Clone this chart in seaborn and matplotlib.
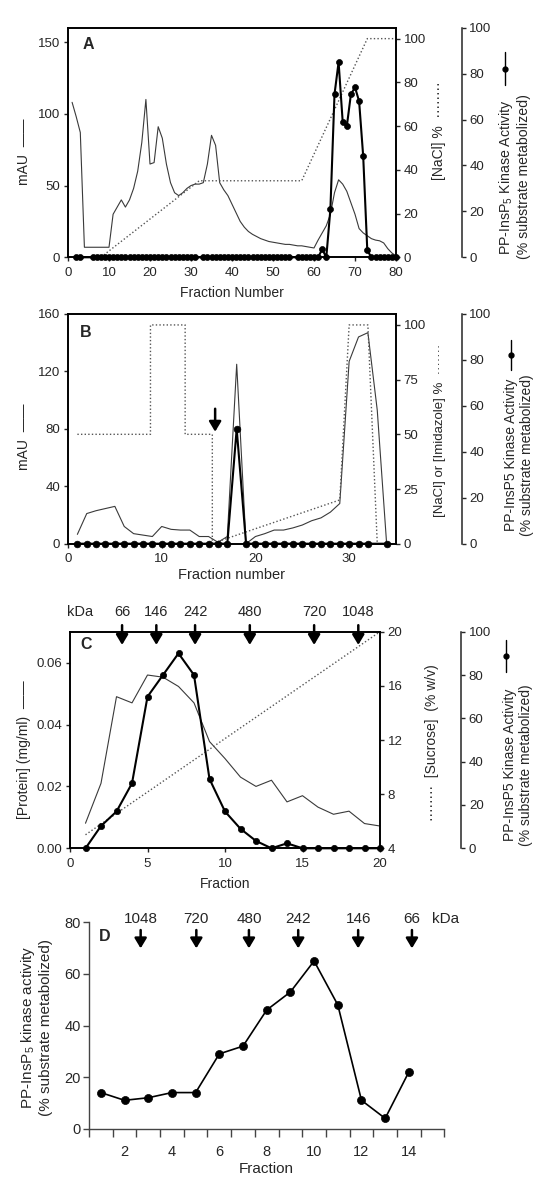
import matplotlib.pyplot as plt
import numpy as np
import seaborn as sns
from matplotlib.lines import Line2D
from matplotlib.ticker import FormatStrFormatter, MultipleLocator

sns.set_style('ticks')
plt.rcParams['font.family'] = ['Liberation Sans', 'DejaVu Sans']
plt.rcParams['mathtext.fontset'] = 'custom'
plt.rcParams['mathtext.rm'] = 'Liberation Sans'
plt.rcParams['mathtext.it'] = 'Liberation Sans:italic'

nan = np.nan

# panel A - anion exchange
frac_a = list(range(1, 81))
mau_a = [108, 98, 87, 7, 7, 7, 7, 7, 7, 7,
         30, 35, 40, 35, 40, 48, 60, 80, 110, 65,
         66, 91, 83, 65, 52, 45, 43, 45, 48, 50,
         51, 51, 52, 65, 85, 78, 52, 47, 43, 37,
         31, 25, 21, 18, 16, 14.5, 13, 12, 11, 10.5,
         10, 9.5, 9, 9, 8.5, 8, 8, 7.5, 7, 6.5,
         12, 17, 22, 30, 45, 54, 51, 46, 38, 30,
         20, 17, 15, 13, 12, 11.5, 10, 6, 3, 1]
act_a = ([nan, 0, 0, nan, nan] + [0] * 26 + [nan] + [0] * 22 + [nan] + [0] * 6
         + [3.5, 0, 21, 71, 85, 59, 57, 71, 74, 68, 44, 3] + [0] * 7)
nacl_a_x = [1, 8, 32, 57, 73, 80]
nacl_a = [0, 0, 35, 35, 100, 100]

# panel B - Ni column
frac_b = list(range(1, 35))
mau_b = [6.5, 21, 23, 24.5, 26, 12, 7, 6, 5, 12, 10, 9.5, 9.5, 5, 5, 1, 5,
         125, 0, 5, 7, 9.5, 9.5, 11, 13, 16, 18, 22, 28, 127, 144, 147, 93, 0]
act_b = [0] * 17 + [50] + [0] * 14 + [nan, 0]
grad_b_x = [1, 8.8, 8.8, 12.5, 12.5, 15.4, 15.4, 16, 29, 30, 32, 33]
grad_b = [50, 50, 100, 100, 50, 50, 0, 1, 20, 100, 100, 0]
arrow_b = 15.7

# panel C - sucrose gradient
frac_c = list(range(1, 21))
protein_c = [0.0081, 0.021, 0.049, 0.047, 0.056, 0.0553, 0.0523, 0.047, 0.0345, 0.029,
             0.023, 0.020, 0.022, 0.015, 0.017, 0.0133, 0.011, 0.012, 0.008, 0.0072]
act_c = [0, 10.3, 17, 30, 70, 80, 90, 80, 32, 17, 9, 3.4, 0, 2.3, 0, 0, 0, 0, 0, 0]
sucrose_x = [1, 20]
sucrose = [5, 20]
kda_c = ['66', '146', '242', '480', '720', '1048']
kda_c_pos = [3.36, 5.57, 8.07, 11.6, 15.75, 18.6]

# panel D - gel filtration
frac_d = list(range(1, 15))
act_d = [14, 11, 12, 14, 14, 29, 32, 46, 53, 65, 48, 11, 4, 22]
kda_d = ['1048', '720', '480', '242', '146', '66']
kda_d_pos = [2.68, 5.03, 7.25, 9.33, 11.86, 14.13]

W, H = 552, 1183
fig = plt.figure(figsize=(W / 100, H / 100), dpi=100)


def rect(l, t, r, b):
    return [l / W, 1 - b / H, (r - l) / W, (b - t) / H]


def ftext(px, py, s, size=10, **kw):
    fig.text(px / W, 1 - py / H, s, ha='center', va='center', rotation=90,
             fontsize=size, multialignment='center', **kw)


def glyph(px, py1, py2):
    fig.add_artist(Line2D([px / W] * 3, [1 - py1 / H, 1 - (py1 + py2) / 2 / H, 1 - py2 / H],
                          transform=fig.transFigure, color='black', lw=1,
                          marker='o', ms=3.5, markevery=[1]))


def three_axes(box, off):
    ax = fig.add_axes(box)
    ax2 = ax.twinx()
    ax3 = ax.twinx()
    ax3.spines['right'].set_position(('axes', off))
    for s in ['top', 'left', 'bottom']:
        ax3.spines[s].set_visible(False)
    for a in (ax, ax2):
        for s in a.spines.values():
            s.set_linewidth(1.2)
            s.set_color('black')
    ax3.spines['right'].set_linewidth(1.1)
    for a in (ax, ax2, ax3):
        a.tick_params(direction='out', length=3, width=1, labelsize=9.5, pad=2.5)
    ax.tick_params(axis='x', pad=4)
    return ax, ax2, ax3


thin = dict(color='#3a3a3a', lw=0.8)
dots = dict(color='#555555', lw=1, linestyle=(0, (1, 1.6)))
act_kw = dict(color='black', lw=1.5, marker='o', mec='black', mew=0.5, clip_on=False)
arrow_kw = dict(arrowstyle='-|>,head_length=0.5,head_width=0.3', color='black',
                lw=1.8, mutation_scale=12, shrinkA=0, shrinkB=0)

# ---------------- A ----------------
ax, ax2, ax3 = three_axes(rect(68, 27.7, 396, 257.3), 1.2)
sns.lineplot(x=frac_a, y=mau_a, ax=ax, **thin)
sns.lineplot(x=nacl_a_x, y=nacl_a, ax=ax2, estimator=None, sort=False, **dots)
sns.lineplot(x=frac_a, y=act_a, ax=ax3, estimator=None, ms=4.3, **act_kw)
ax.set_xlim(0, 80)
ax.set_ylim(0, 160)
ax.set_yticks([0, 50, 100, 150])
ax.set_xticks(range(0, 81, 10))
ax2.set_ylim(0, 105)
ax2.set_yticks(range(0, 101, 20))
ax3.set_ylim(0, 100)
ax3.set_yticks(range(0, 101, 20))
ax.set_xlabel('Fraction Number', fontsize=10, labelpad=5)
ax.set_ylabel('')
ax.text(0.062, 0.925, 'A', transform=ax.transAxes, fontsize=11.5, fontweight='bold',
        ha='center', va='center')
ftext(24, 152, 'mAU  \u2014\u2014')
ftext(439, 131, '[NaCl] %  \u00b7\u00b7\u00b7\u00b7\u00b7\u00b7\u00b7\u00b7')
ftext(514, 177, 'PP-InsP$_5$ Kinase Activity\n(% substrate metabolized)', size=10.2)
glyph(505, 52, 85)

# ---------------- B ----------------
ax, ax2, ax3 = three_axes(rect(68, 314, 396, 543.7), 1.2)
sns.lineplot(x=frac_b, y=mau_b, ax=ax, **thin)
sns.lineplot(x=grad_b_x, y=grad_b, ax=ax2, estimator=None, sort=False, **dots)
sns.lineplot(x=frac_b, y=act_b, ax=ax3, estimator=None, ms=4.8, **act_kw)
ax.set_xlim(0, 35)
ax.set_ylim(0, 160)
ax.set_yticks(range(0, 161, 40))
ax.set_xticks([0, 10, 20, 30])
ax2.set_ylim(0, 105)
ax2.set_yticks([0, 25, 50, 75, 100])
ax3.set_ylim(0, 100)
ax3.set_yticks(range(0, 101, 20))
ax.set_xlabel('Fraction number', fontsize=10.5, labelpad=2)
ax.annotate('', xy=(arrow_b, 78), xytext=(arrow_b, 94), arrowprops=arrow_kw)
ax.text(0.055, 0.92, 'B', transform=ax.transAxes, fontsize=11.5, fontweight='bold',
        ha='center', va='center')
ftext(24, 437, 'mAU  \u2014\u2014')
ftext(440, 430, '[NaCl] or [Imidazole] %  \u00b7\u00b7\u00b7\u00b7\u00b7\u00b7\u00b7', size=9.5)
ftext(519, 455, 'PP-InsP5 Kinase Activity\n(% substrate metabolized)', size=10)
glyph(510.7, 340, 370)

# ---------------- C ----------------
ax, ax2, ax3 = three_axes(rect(70, 631.7, 380, 848.3), 1.262)
sns.lineplot(x=frac_c, y=protein_c, ax=ax, **thin)
sns.lineplot(x=sucrose_x, y=sucrose, ax=ax2, estimator=None, **dots)
sns.lineplot(x=frac_c, y=act_c, ax=ax3, estimator=None, ms=4.5, **act_kw)
ax.set_xlim(0, 20)
ax.set_ylim(0, 0.07)
ax.set_yticks([0, 0.02, 0.04, 0.06])
ax.yaxis.set_major_formatter(FormatStrFormatter('%.2f'))
ax.set_xticks([0, 5, 10, 15, 20])
ax2.set_ylim(4, 20)
ax2.set_yticks([4, 8, 12, 16, 20])
ax3.set_ylim(0, 100)
ax3.set_yticks(range(0, 101, 20))
ax.set_xlabel('Fraction', fontsize=10, labelpad=5)
for pos, lab in zip(kda_c_pos, kda_c):
    ax.annotate('', xy=(pos, 0.939), xytext=(pos, 1.03),
                xycoords=('data', 'axes fraction'), textcoords=('data', 'axes fraction'),
                annotation_clip=False, arrowprops=arrow_kw)
    ax.text(pos, 1.09, lab, transform=ax.get_xaxis_transform(), fontsize=10.5,
            ha='center', va='center')
ax.text(0.62, 1.09, 'kDa', transform=ax.get_xaxis_transform(), fontsize=10.5,
        ha='center', va='center')
ax.text(0.052, 0.939, 'C', transform=ax.transAxes, fontsize=11.5, fontweight='bold',
        ha='center', va='center')
ftext(23.6, 750, '[Protein] (mg/ml)  \u2014\u2014')
ftext(432, 743, '\u00b7\u00b7\u00b7\u00b7\u00b7\u00b7\u00b7\u00b7  [Sucrose]  (% w/v)')
ftext(518, 765, 'PP-InsP5 Kinase Activity\n(% substrate metabolized)', size=10)
glyph(506, 640, 672)

# ---------------- D ----------------
ax = fig.add_axes(rect(89, 922.3, 444.4, 1128.7))
sns.lineplot(x=frac_d, y=act_d, ax=ax, color='black', lw=1.2, marker='o', ms=5.8,
             mec='black', mew=0.5)
sns.despine(ax=ax)
for s in ['left', 'bottom']:
    ax.spines[s].set_color('#444444')
    ax.spines[s].set_linewidth(1)
ax.set_xlim(0.5, 15.5)
ax.set_ylim(0, 80)
ax.set_yticks(range(0, 81, 20))
ax.set_xticks(range(2, 15, 2))
ax.xaxis.set_minor_locator(MultipleLocator(1, offset=0.5))
ax.tick_params(axis='x', which='major', length=0, pad=12, labelsize=10.5)
ax.tick_params(axis='x', which='minor', direction='out', length=6, width=1, color='#444444')
ax.tick_params(axis='y', direction='out', length=4, width=1, color='#444444', labelsize=10.5,
               pad=2)
ax.set_xlabel('Fraction', fontsize=11, labelpad=2)
ax.set_ylabel('')
ftext(36, 1027, 'PP-InsP$_5$ kinase activity\n(% substrate metabolized)', size=11)
for pos, lab in zip(kda_d_pos, kda_d):
    ax.annotate('', xy=(pos, 69.9), xytext=(pos, 77), annotation_clip=False,
                arrowprops=arrow_kw)
    ax.text(pos, 81.3, lab, fontsize=11, ha='center', va='center')
ax.text(15.54, 81.3, 'kDa', fontsize=11, ha='center', va='center')
ax.text(1.15, 74.4, 'D', fontsize=11.5, fontweight='bold', ha='center', va='center')

fig.savefig('out.png', dpi=100)
